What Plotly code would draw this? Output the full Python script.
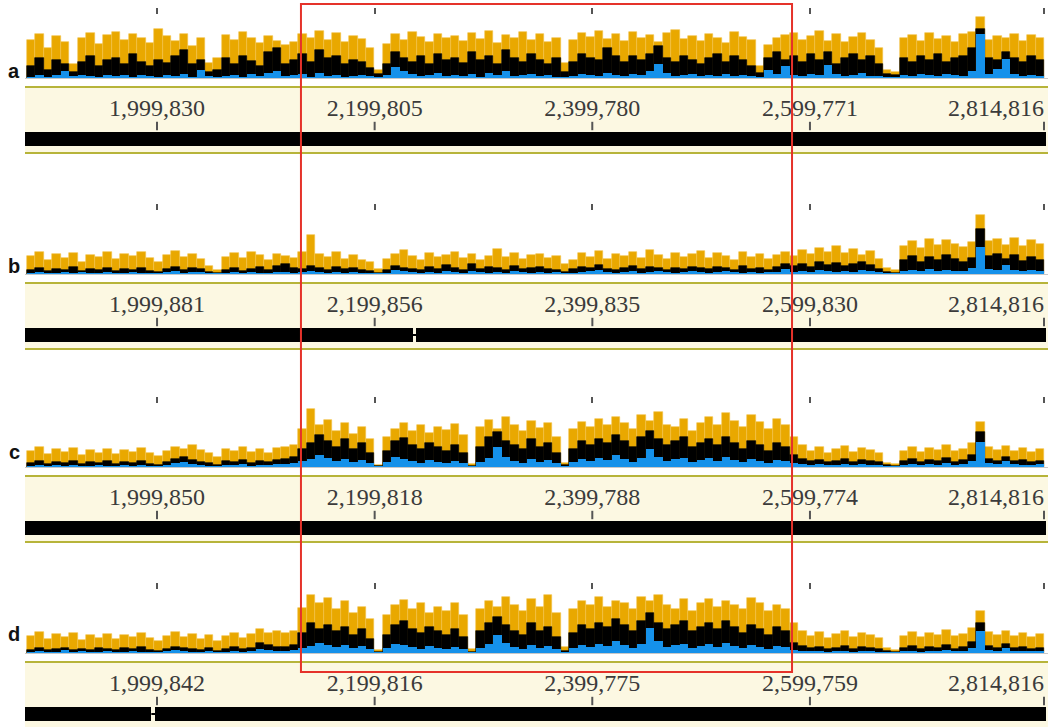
import plotly.graph_objects as go

# ---------------- data ----------------
PANELS = ["a", "b", "c", "d"]

labels_a = ["1,999,830", "2,199,805", "2,399,780", "2,599,771", "2,814,816"]
labels_b = ["1,999,881", "2,199,856", "2,399,835", "2,599,830", "2,814,816"]
labels_c = ["1,999,850", "2,199,818", "2,399,788", "2,599,774", "2,814,816"]
labels_d = ["1,999,842", "2,199,816", "2,399,775", "2,599,759", "2,814,816"]

# genome window shown and coverage-bin window
VIEW_START, VIEW_END = 1878548, 2818491
HIST_START, HIST_END = 1880400, 2814816
HIGHLIGHT = [2132100, 2583300]

# contig segments (start, end) per panel
contigs_a = [(1878548, 2816500)]
contigs_b = [(1878548, 2235000), (2237800, 2816500)]
contigs_c = [(1878548, 2816500)]
contigs_d = [(1878548, 1994600), (1998300, 2816500)]

# coverage per bin (120 bins), three overlaid layers
a_orange = [38, 44, 30, 42, 36, 14, 40, 45, 34, 43,
            46, 38, 44, 40, 35, 49, 42, 37, 44, 32,
            40, 15, 20, 43, 38, 46, 40, 35, 42, 37,
            33, 36, 44, 40, 47, 38, 45, 36, 42, 39,
            30, 8, 34, 44, 38, 46, 41, 36, 44, 40,
            42, 37, 45, 39, 47, 35, 43, 40, 46, 38,
            44, 36, 40, 15, 38, 45, 41, 47, 39, 44,
            37, 46, 40, 43, 36, 45, 48, 39, 42, 37,
            44, 40, 35, 46, 41, 38, 12, 33, 40, 43,
            45, 38, 42, 47, 37, 44, 36, 41, 45, 38,
            30, 8, 6, 40, 43, 37, 45, 39, 42, 36,
            44, 46, 61, 38, 42, 40, 44, 37, 43, 40]
a_black = [12, 20, 8, 18, 14, 6, 16, 22, 12, 18,
           20, 14, 24, 16, 12, 18, 15, 22, 28, 14,
           18, 6, 8, 20, 14, 22, 17, 12, 26, 30,
           14, 18, 24, 16, 28, 20, 22, 14, 18, 16,
           10, 4, 14, 26, 20, 16, 22, 14, 24, 18,
           20, 15, 26, 18, 22, 14, 28, 20, 16, 24,
           18, 14, 20, 6, 16, 24, 20, 18, 30, 22,
           16, 22, 18, 24, 32, 20, 16, 22, 18, 14,
           20, 24, 16, 22, 18, 12, 5, 20, 26, 18,
           22, 16, 24, 18, 26, 14, 20, 24, 18, 22,
           14, 4, 3, 20, 16, 22, 18, 24, 16, 20,
           22, 30, 49, 20, 18, 26, 20, 16, 22, 18]
a_blue = [1, 3, 1, 3, 7, 2, 3, 2, 1, 3,
          2, 3, 1, 3, 2, 1, 3, 2, 4, 1,
          8, 2, 1, 2, 3, 1, 4, 2, 5, 7,
          2, 3, 4, 1, 5, 2, 3, 1, 2, 3,
          2, 1, 3, 11, 7, 4, 2, 3, 5, 2,
          3, 2, 4, 1, 5, 3, 7, 2, 3, 4,
          2, 3, 1, 1, 2, 4, 3, 2, 5, 3,
          2, 4, 3, 7, 14, 5, 2, 3, 4, 2,
          3, 2, 4, 2, 3, 2, 1, 8, 4, 12,
          3, 2, 4, 3, 13, 4, 2, 3, 5, 2,
          2, 1, 1, 3, 2, 4, 3, 2, 4, 3,
          2, 7, 44, 4, 9, 19, 4, 2, 3, 2]

b_orange = [18, 22, 14, 20, 16, 21, 12, 19, 17, 22,
            15, 20, 18, 22, 16, 12, 19, 23, 17, 20,
            15, 8, 4, 17, 21, 16, 22, 19, 14, 20,
            18, 16, 22, 39, 20, 17, 22, 15, 19, 14,
            12, 5, 15, 20, 24, 18, 14, 21, 17, 19,
            22, 16, 20, 14, 18, 25, 17, 21, 15, 19,
            20, 16, 18, 10, 14, 21, 17, 23, 15, 20,
            18, 22, 16, 24, 19, 15, 21, 17, 20, 23,
            16, 21, 18, 14, 22, 17, 20, 15, 19, 22,
            18, 24, 20, 26, 22, 28, 21, 25, 19, 23,
            15, 6, 4, 28, 33, 26, 35, 29, 34, 30,
            27, 32, 59, 33, 35, 29, 36, 28, 34, 30]
b_black = [4, 6, 3, 5, 4, 7, 3, 5, 4, 6,
           3, 5, 4, 6, 3, 2, 5, 7, 4, 6,
           5, 2, 1, 4, 6, 3, 5, 7, 4, 8,
           10, 6, 5, 8, 6, 4, 7, 5, 6, 4,
           3, 1, 4, 8, 6, 5, 4, 7, 5, 9,
           6, 4, 10, 5, 7, 6, 4, 8, 5, 6,
           7, 5, 4, 2, 5, 7, 6, 9, 5, 4,
           6, 8, 5, 7, 6, 4, 6, 5, 7, 6,
           5, 7, 6, 4, 8, 5, 6, 4, 7, 10,
           8, 10, 7, 12, 9, 11, 8, 10, 12, 9,
           5, 2, 1, 14, 18, 12, 17, 14, 19, 15,
           12, 16, 45, 18, 20, 15, 19, 13, 17, 14]
b_blue = [1, 2, 1, 1, 2, 1, 2, 1, 1, 2,
          1, 1, 2, 1, 1, 1, 2, 3, 1, 2,
          2, 1, 1, 1, 2, 1, 2, 1, 1, 2,
          2, 1, 2, 3, 2, 1, 2, 1, 2, 1,
          1, 1, 1, 4, 3, 2, 1, 2, 1, 3,
          2, 1, 3, 2, 1, 2, 1, 3, 2, 1,
          2, 1, 2, 1, 1, 2, 3, 4, 2, 1,
          2, 3, 1, 2, 3, 2, 1, 2, 3, 2,
          1, 2, 3, 2, 1, 2, 1, 2, 2, 5,
          2, 3, 2, 4, 3, 2, 3, 2, 4, 3,
          2, 1, 1, 3, 4, 3, 5, 3, 4, 3,
          3, 6, 27, 5, 4, 9, 4, 3, 4, 3]

c_orange = [16, 20, 13, 18, 15, 19, 12, 17, 14, 18,
            13, 17, 15, 19, 14, 11, 16, 20, 18, 22,
            17, 14, 10, 18, 16, 20, 15, 18, 14, 19,
            20, 22, 38, 58, 42, 47, 36, 44, 33, 40,
            28, 2, 30, 38, 44, 36, 42, 34, 40, 37,
            43, 32, 3, 40, 47, 38, 50, 42, 36, 46,
            39, 44, 30, 4, 38, 45, 40, 48, 42, 50,
            44, 38, 52, 46, 55, 42, 40, 48, 36, 44,
            50, 42, 54, 46, 40, 52, 45, 38, 48, 42,
            30, 22, 16, 20, 14, 18, 21, 15, 19, 17,
            14, 4, 3, 16, 20, 15, 19, 17, 22, 16,
            18, 24, 45, 20, 17, 21, 16, 19, 15, 18]
c_black = [4, 6, 3, 5, 4, 6, 3, 5, 4, 6,
           3, 5, 4, 6, 3, 2, 5, 8, 10, 7,
           5, 4, 2, 6, 5, 7, 4, 6, 5, 7,
           8, 10, 18, 24, 32, 26, 20, 28, 18, 24,
           14, 1, 16, 26, 29, 22, 18, 24, 20, 16,
           22, 14, 1, 20, 30, 35, 26, 22, 18, 28,
           20, 24, 14, 2, 18, 26, 22, 28, 24, 32,
           26, 20, 30, 36, 28, 22, 26, 30, 20, 24,
           28, 22, 30, 24, 18, 26, 22, 16, 24, 20,
           12, 8, 6, 7, 5, 6, 8, 5, 7, 6,
           5, 2, 1, 6, 8, 5, 7, 6, 9, 5,
           7, 12, 35, 8, 6, 10, 6, 7, 5, 6]
c_blue = [1, 2, 1, 2, 1, 2, 1, 1, 2, 1,
          1, 2, 1, 2, 1, 1, 2, 4, 5, 3,
          2, 1, 1, 2, 2, 3, 1, 2, 2, 3,
          3, 4, 6, 8, 12, 9, 6, 8, 5, 7,
          4, 1, 5, 10, 8, 6, 4, 7, 5, 4,
          6, 4, 1, 5, 9, 20, 10, 6, 4, 8,
          5, 7, 4, 1, 5, 8, 6, 9, 7, 12,
          8, 5, 9, 18, 10, 6, 8, 9, 5, 7,
          9, 6, 10, 7, 5, 8, 6, 4, 7, 6,
          4, 3, 2, 3, 2, 2, 3, 2, 3, 2,
          2, 1, 1, 2, 3, 2, 3, 2, 4, 2,
          3, 6, 25, 4, 3, 6, 3, 2, 2, 3]

d_orange = [17, 21, 14, 19, 16, 20, 13, 18, 15, 19,
            14, 18, 16, 20, 15, 12, 17, 21, 16, 19,
            14, 18, 12, 17, 20, 15, 19, 24, 20, 22,
            20, 22, 45, 58, 50, 55, 44, 52, 40, 46,
            34, 3, 38, 48, 53, 44, 50, 40, 46, 42,
            50, 38, 4, 44, 52, 46, 56, 48, 42, 54,
            46, 58, 40, 6, 44, 52, 48, 56, 46, 52,
            50, 44, 56, 52, 58, 48, 44, 54, 42, 50,
            54, 46, 52, 48, 44, 55, 50, 42, 48, 44,
            30, 22, 17, 21, 15, 19, 22, 16, 20, 18,
            15, 5, 3, 17, 21, 16, 20, 18, 23, 17,
            19, 25, 42, 21, 18, 22, 17, 20, 16, 19]
d_black = [3, 5, 3, 4, 5, 3, 4, 3, 5, 4,
           3, 5, 4, 6, 3, 2, 4, 6, 5, 4,
           3, 5, 2, 4, 6, 4, 5, 10, 8, 6,
           6, 8, 20, 30, 24, 28, 22, 26, 18, 24,
           14, 1, 18, 28, 32, 24, 20, 26, 22, 18,
           24, 16, 1, 22, 30, 36, 28, 22, 18, 30,
           22, 26, 16, 2, 20, 28, 24, 30, 26, 34,
           28, 22, 32, 40, 30, 24, 28, 32, 22, 26,
           30, 24, 32, 26, 20, 28, 24, 18, 26, 22,
           10, 7, 5, 6, 4, 5, 7, 4, 6, 5,
           4, 2, 1, 5, 7, 4, 6, 5, 8, 4,
           6, 11, 30, 7, 5, 9, 5, 6, 4, 5]
d_blue = [1, 2, 1, 1, 3, 1, 2, 1, 1, 2,
          1, 1, 2, 1, 1, 1, 2, 3, 2, 1,
          1, 2, 1, 1, 2, 1, 2, 4, 3, 2,
          2, 3, 5, 7, 10, 8, 6, 8, 5, 7,
          4, 1, 5, 9, 8, 6, 4, 7, 5, 4,
          6, 4, 1, 5, 9, 18, 10, 6, 4, 8,
          5, 7, 4, 1, 5, 8, 6, 9, 7, 12,
          8, 5, 9, 25, 12, 6, 8, 9, 5, 7,
          9, 6, 10, 7, 5, 8, 6, 4, 7, 6,
          3, 2, 2, 2, 1, 2, 2, 1, 2, 2,
          1, 1, 1, 2, 2, 1, 2, 2, 3, 2,
          2, 5, 22, 3, 2, 5, 2, 2, 2, 2]

DATA = {
    "a": (labels_a, contigs_a, a_orange, a_black, a_blue),
    "b": (labels_b, contigs_b, b_orange, b_black, b_blue),
    "c": (labels_c, contigs_c, c_orange, c_black, c_blue),
    "d": (labels_d, contigs_d, d_orange, d_black, d_blue),
}

# ---------------- style / geometry ----------------
W, H = 1052, 727
OFFSETS = [0, 196, 389, 575]          # px offset of each panel
X_DOM = [25 / W, 1048 / W]
LETTER_Y = [71, 266, 452, 634]
ORANGE = "#E9A800"
BLUE = "#1591EA"
CREAM = "#FCF8E2"
OLIVE = "#B7B43A"
TICKC = "#555555"
TEXTC = "#3b3b3b"


def py(px):
    return 1 - px / H


fig = go.Figure()
layout = {}
shapes = []
annotations = []

for p, name in enumerate(PANELS):
    labels, contigs, orange, black, blue = DATA[name]
    vals = [int(s.replace(",", "")) for s in labels]
    off = OFFSETS[p]
    hi, bi = 2 * p + 1, 2 * p + 2
    hx = "x" if hi == 1 else f"x{hi}"
    hy = "y" if hi == 1 else f"y{hi}"
    bx, by = f"x{bi}", f"y{bi}"
    hkey = "" if hi == 1 else str(hi)

    # ---- coverage histogram ----
    n = len(orange)
    binw = (HIST_END - HIST_START) / n
    centers = [HIST_START + (i + 0.5) * binw for i in range(n)]
    for vals_layer, col, lw, lc in ((orange, ORANGE, 0.6, "#F2C24A"),
                                    (black, "#000000", 0.6, "#000000"),
                                    (blue, BLUE, 0, BLUE)):
        fig.add_trace(go.Bar(x=centers, y=vals_layer, width=binw,
                             marker=dict(color=col, line=dict(width=lw, color=lc)),
                             xaxis=hx, yaxis=hy, hoverinfo="skip"))

    layout[f"xaxis{hkey}"] = dict(domain=X_DOM, range=[VIEW_START, VIEW_END], anchor=hy,
                                  side="top", ticks="inside", ticklen=6, tickwidth=2,
                                  tickcolor=TICKC, tickvals=vals, showticklabels=False,
                                  showgrid=False, zeroline=False, showline=False,
                                  fixedrange=True)
    layout[f"yaxis{hkey}"] = dict(domain=[py(off + 78), py(off + 8)], range=[0, 70],
                                  anchor=hx, showticklabels=False, showgrid=False,
                                  showline=False, ticks="", zeroline=True,
                                  zerolinecolor="#c8c8c8", zerolinewidth=1,
                                  fixedrange=True)

    # ---- ruler band ----
    layout[f"xaxis{bi}"] = dict(domain=X_DOM, range=[VIEW_START, VIEW_END], anchor=by,
                                showline=True, mirror=True, linecolor=OLIVE, linewidth=2,
                                ticks="", showticklabels=False, showgrid=False,
                                zeroline=False, fixedrange=True)
    layout[f"yaxis{bi}"] = dict(domain=[py(off + 152), py(off + 88)], range=[0, 64],
                                anchor=bx, showticklabels=False, showgrid=False,
                                showline=False, ticks="", zeroline=False, fixedrange=True)
    shapes.append(dict(type="rect", xref=f"{bx} domain", yref=f"{by} domain",
                       x0=0, x1=1, y0=0, y1=1, fillcolor=CREAM,
                       line=dict(width=0), layer="below"))

    fig.add_trace(go.Scatter(x=vals, y=[42] * len(vals), mode="text", text=labels,
                             textposition=["middle center"] * (len(vals) - 1) + ["middle left"],
                             textfont=dict(family="Liberation Serif", size=24, color=TEXTC),
                             xaxis=bx, yaxis=by, hoverinfo="skip", cliponaxis=False))
    fig.add_trace(go.Scatter(x=vals, y=[26] * len(vals), mode="markers",
                             marker=dict(symbol="line-ns", size=6,
                                         line=dict(width=2, color=TICKC)),
                             xaxis=bx, yaxis=by, hoverinfo="skip"))

    fig.add_trace(go.Bar(orientation="h", y=[13] * len(contigs),
                         base=[s for s, e in contigs], x=[e - s for s, e in contigs],
                         width=14, marker=dict(color="#000000", line=dict(width=0)),
                         xaxis=bx, yaxis=by, hoverinfo="skip"))
    for (s1, e1), (s2, e2) in zip(contigs[:-1], contigs[1:]):
        fig.add_trace(go.Scatter(x=[e1, s2], y=[13, 13], mode="lines",
                                 line=dict(color="#000000", width=2),
                                 xaxis=bx, yaxis=by, hoverinfo="skip"))

    annotations.append(dict(text=f"<b>{name}</b>", xref="paper", yref="paper",
                            x=14 / W, y=py(LETTER_Y[p]), xanchor="center",
                            yanchor="middle", showarrow=False,
                            font=dict(family="Liberation Sans", size=20, color="#111111")))

# highlighted region
shapes.append(dict(type="rect", xref="x", yref="paper", x0=HIGHLIGHT[0], x1=HIGHLIGHT[1],
                   y0=py(672), y1=py(4), line=dict(color="#E5322A", width=2),
                   fillcolor="rgba(0,0,0,0)", layer="above"))

fig.update_layout(**layout)
fig.update_layout(width=W, height=H, margin=dict(l=0, r=0, t=0, b=0),
                  paper_bgcolor="white", plot_bgcolor="white", barmode="overlay",
                  bargap=0, showlegend=False, hovermode=False,
                  shapes=shapes, annotations=annotations)

fig.write_html("out.html", config={"displayModeBar": False},
               post_script="document.body.style.margin='0px';document.body.style.overflow='hidden';")
